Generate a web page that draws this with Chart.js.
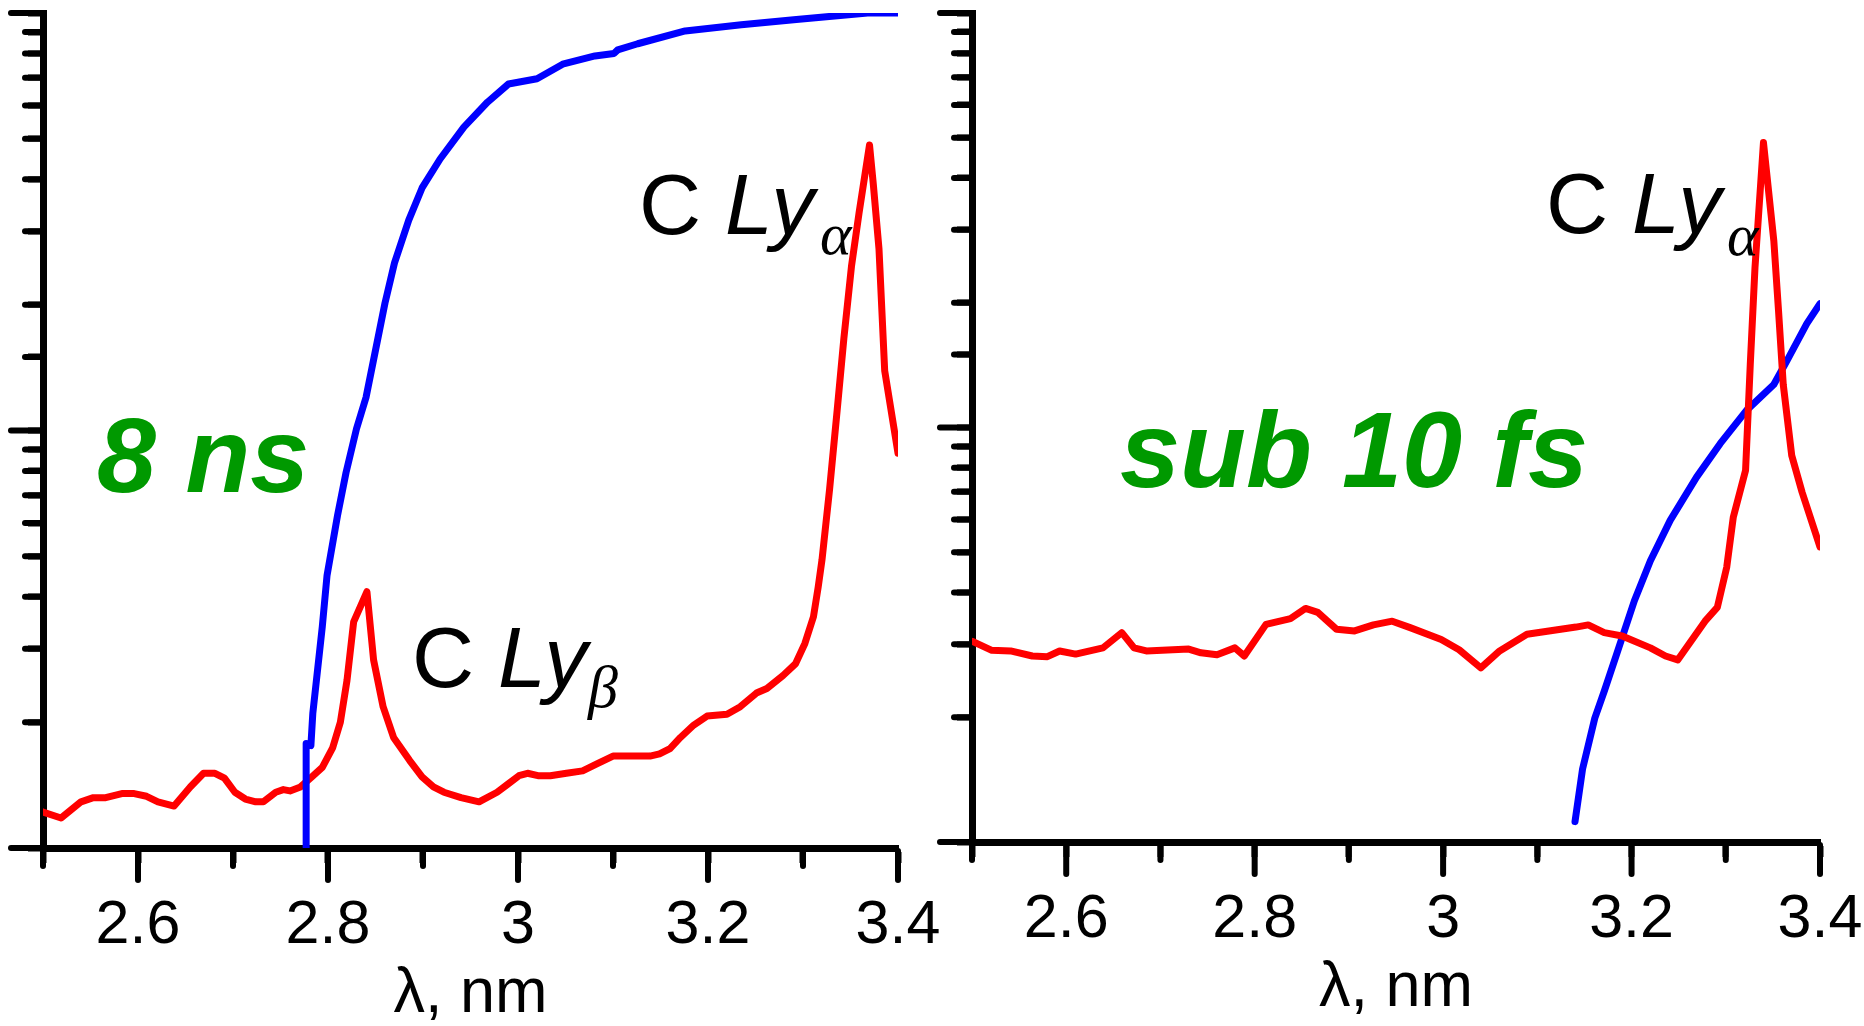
<!DOCTYPE html>
<html><head><meta charset="utf-8">
<script src="https://cdn.jsdelivr.net/npm/chart.js@4.4.1/dist/chart.umd.min.js"></script>
<style>
html,body{margin:0;padding:0;background:#fff;overflow:hidden;}
#wrap{position:relative;width:1864px;height:1026px;background:#fff;}
canvas{position:absolute;top:0;}
#c1{left:0;} #c2{left:930px;}
</style></head><body>
<div id="wrap"><canvas id="c1" width="960" height="1026"></canvas><canvas id="c2" width="934" height="1020"></canvas></div>
<script>
// ---- data (wavelength in nm, intensity in arbitrary units, log scale) ----
const xTickLabels = ['2.6', '2.8', '3', '3.2', '3.4'];
const axisTitle = 'λ, nm';

// Left panel: 8 ns
const leftRedX = [2.500,2.519,2.540,2.553,2.566,2.583,2.596,2.609,2.621,2.638,2.655,2.669,2.681,2.691,2.702,2.713,2.724,2.732,2.745,2.753,2.760,2.771,2.783,2.794,2.805,2.813,2.820,2.827,2.841,2.848,2.858,2.869,2.886,2.899,2.911,2.922,2.940,2.959,2.978,2.989,3.001,3.010,3.021,3.034,3.051,3.068,3.083,3.100,3.139,3.149,3.160,3.171,3.185,3.199,3.220,3.234,3.251,3.262,3.279,3.292,3.302,3.311,3.316,3.320,3.328,3.336,3.343,3.351,3.359,3.370,3.374,3.380,3.386,3.400];
const leftRedY = [1.22,1.18,1.29,1.32,1.32,1.35,1.35,1.33,1.29,1.26,1.40,1.51,1.51,1.47,1.36,1.31,1.29,1.29,1.36,1.38,1.37,1.40,1.48,1.56,1.74,2.00,2.52,3.48,4.11,2.82,2.18,1.84,1.62,1.48,1.40,1.36,1.32,1.29,1.36,1.42,1.49,1.51,1.49,1.49,1.51,1.53,1.59,1.66,1.66,1.68,1.73,1.84,1.97,2.07,2.09,2.18,2.35,2.41,2.59,2.76,3.09,3.58,4.22,4.90,7.24,11.2,16.6,24.7,33.2,48.3,38.9,27.2,13.9,8.82];
const leftBlueX = [2.777,2.777,2.782,2.784,2.794,2.799,2.810,2.819,2.830,2.840,2.860,2.870,2.885,2.899,2.918,2.943,2.968,2.990,3.020,3.047,3.081,3.101,3.105,3.126,3.176,3.235,3.293,3.368,3.400];
const leftBlueY = [0.5,1.78,1.76,2.10,3.39,4.50,6.25,7.93,10.1,12.0,20.2,25.2,31.9,38.1,44.7,53.3,61.2,67.6,69.6,75.4,78.9,80.0,81.6,84.4,90.6,93.7,96.5,100,100];

// Right panel: sub 10 fs
const rightRedX = [2.500,2.521,2.541,2.564,2.580,2.593,2.610,2.639,2.659,2.672,2.685,2.730,2.743,2.760,2.779,2.789,2.812,2.838,2.854,2.867,2.887,2.906,2.926,2.946,2.965,2.998,3.017,3.040,3.060,3.089,3.141,3.154,3.171,3.190,3.220,3.236,3.249,3.278,3.291,3.301,3.308,3.321,3.326,3.331,3.340,3.351,3.356,3.361,3.370,3.381,3.400];
const rightRedY = [3.05,2.90,2.89,2.81,2.80,2.89,2.84,2.94,3.20,2.94,2.89,2.92,2.86,2.83,2.94,2.81,3.35,3.46,3.66,3.58,3.26,3.23,3.34,3.41,3.29,3.08,2.91,2.63,2.89,3.17,3.30,3.34,3.20,3.14,2.94,2.81,2.75,3.41,3.68,4.60,6.08,7.88,14.2,24.3,48.7,28.2,19.1,12.7,8.56,6.98,5.15];
const rightBlueX = [3.140,3.148,3.161,3.171,3.184,3.203,3.220,3.241,3.269,3.294,3.322,3.351,3.365,3.386,3.400];
const rightBlueY = [1.12,1.50,1.99,2.31,2.83,3.82,4.77,5.97,7.59,9.14,11.0,12.7,14.5,17.8,19.9];

// ---- styling ----
const SANS = "'Liberation Sans', Arial, sans-serif";
const SERIF = "'Liberation Serif', 'Times New Roman', serif";
const RED = '#ff0000', BLUE = '#0000ff', GREEN = '#009900';
const MINOR = 15, MAJOR = 29, AXW = 7, TICKW = 6, LINEW = 7;

function pts(xs, ys) { return xs.map((x, i) => ({ x: x, y: ys[i] })); }
function tenth(v) { return Math.round(v * 10); }
function xLabel(v) { const s = String(tenth(v) / 10); return xTickLabels.includes(s) ? s : ''; }
function isMajorX(v) { return tenth(v) % 2 === 0; }
function isMajorY(v) { const l = Math.log10(v); return Math.abs(l - Math.round(l)) < 1e-6; }

// Tick marks with round ends; major ticks longer (positions from the chart's scales)
const tickPlugin = {
  id: 'tickMarks',
  afterDraw(chart) {
    const { ctx, chartArea: a, scales } = chart;
    const x = scales.x, y = scales.y;
    ctx.save();
    ctx.strokeStyle = '#000'; ctx.lineWidth = TICKW; ctx.lineCap = 'round';
    x.ticks.forEach(t => {
      const px = x.getPixelForValue(t.value);
      const len = isMajorX(t.value) ? MAJOR : MINOR;
      ctx.beginPath(); ctx.moveTo(px, a.bottom + 3); ctx.lineTo(px, a.bottom + 3 + len); ctx.stroke();
    });
    y.ticks.forEach(t => {
      const py = y.getPixelForValue(t.value);
      const len = isMajorY(t.value) ? MAJOR : MINOR;
      ctx.beginPath(); ctx.moveTo(a.left - 3, py); ctx.lineTo(a.left - 3 - len, py); ctx.stroke();
    });
    ctx.restore();
  }
};

// Annotations
const textPlugin = {
  id: 'annotations',
  afterDatasetsDraw(chart, args, opts) {
    const ctx = chart.ctx;
    ctx.save();
    ctx.textBaseline = 'alphabetic'; ctx.textAlign = 'left';
    (opts.green || []).forEach(g => {
      ctx.fillStyle = GREEN;
      ctx.font = `italic bold ${g.size}px ${SANS}`;
      ctx.fillText(g.text, g.x, g.y);
    });
    (opts.lines || []).forEach(l => {
      ctx.fillStyle = '#000';
      ctx.font = `${l.size}px ${SANS}`;
      ctx.fillText('C ', l.x, l.y);
      const w = ctx.measureText('C ').width;
      ctx.font = `italic ${l.size}px ${SANS}`;
      ctx.fillText('Ly', l.x + w, l.y);
      ctx.font = `italic ${l.subSize}px ${SERIF}`;
      ctx.fillText(l.sub, l.subX, l.subY);
    });
    ctx.restore();
  }
};

function makeChart(id, datasets, padRight, yWidth, annotations) {
  return new Chart(document.getElementById(id), {
    type: 'line',
    data: { datasets: datasets },
    options: {
      responsive: false, animation: false, devicePixelRatio: 1,
      layout: { padding: { top: 13, right: padRight, left: 0, bottom: 0 } },
      plugins: { legend: { display: false }, tooltip: { enabled: false }, annotations: annotations },
      elements: {
        point: { radius: 0, hoverRadius: 0 },
        line: { tension: 0, borderWidth: LINEW, borderJoinStyle: 'round', borderCapStyle: 'round' }
      },
      scales: {
        x: {
          type: 'linear', min: 2.5, max: 3.4,
          ticks: {
            stepSize: 0.1, autoSkip: false, maxRotation: 0, padding: 27, color: '#000',
            font: { size: 61, family: SANS }, callback: v => xLabel(v)
          },
          grid: { display: true, drawOnChartArea: false, drawTicks: true, tickLength: MINOR, tickWidth: TICKW, tickColor: '#000' },
          border: { display: true, width: AXW, color: '#000' },
          title: { display: true, text: axisTitle, color: '#000', font: { size: 63, family: SANS, lineHeight: 1 }, padding: { top: 0, bottom: 0 } },
          afterFit: s => { s.height = 178; s.paddingLeft = 0; s.paddingRight = 0; }
        },
        y: {
          type: 'logarithmic', min: 1, max: 100,
          ticks: { autoSkip: false, padding: 0, callback: () => '' },
          grid: { display: true, drawOnChartArea: false, drawTicks: true, tickLength: MINOR, tickWidth: TICKW, tickColor: '#000' },
          border: { display: true, width: AXW, color: '#000' },
          afterFit: s => { s.width = yWidth; s.paddingTop = 0; s.paddingBottom = 0; }
        }
      }
    },
    plugins: [tickPlugin, textPlugin]
  });
}

const lineStyle = { borderWidth: LINEW, borderJoinStyle: 'round', borderCapStyle: 'round', pointRadius: 0, tension: 0 };

// Left: blue drawn on top of red
makeChart('c1', [
  Object.assign({ label: 'blue', data: pts(leftBlueX, leftBlueY), borderColor: BLUE }, lineStyle),
  Object.assign({ label: 'red', data: pts(leftRedX, leftRedY), borderColor: RED }, lineStyle)
], 62, 43, {
  green: [{ text: '8 ns', x: 97, y: 492, size: 106 }],
  lines: [
    { x: 639, y: 234, size: 86, sub: 'α', subX: 820, subY: 254, subSize: 60 },
    { x: 412, y: 687, size: 86, sub: 'β', subX: 588, subY: 707, subSize: 60 }
  ]
});

// Right: red drawn on top of blue
makeChart('c2', [
  Object.assign({ label: 'red', data: pts(rightRedX, rightRedY), borderColor: RED }, lineStyle),
  Object.assign({ label: 'blue', data: pts(rightBlueX, rightBlueY), borderColor: BLUE }, lineStyle)
], 44, 42, {
  green: [{ text: 'sub 10 fs', x: 190, y: 487, size: 108 }],
  lines: [
    { x: 616, y: 233, size: 86, sub: 'α', subX: 797, subY: 255, subSize: 60 }
  ]
});
</script>
</body></html>
